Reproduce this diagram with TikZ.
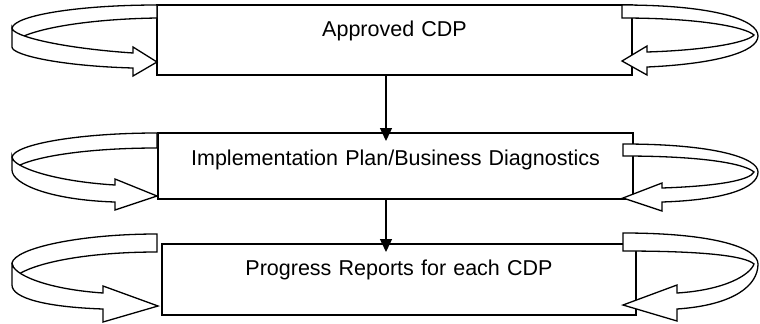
\documentclass[tikz,border=0pt]{standalone}
\usepackage{fontspec}
\setmainfont{Liberation Sans}
\usetikzlibrary{arrows.meta}
\tikzset{
  box/.style={draw, line width=1.6bp, inner sep=0pt, outer sep=0pt, align=center,
    anchor=north west, font=\fontsize{21.5bp}{26bp}\selectfont},
  ribbon/.style={draw, fill=white, line width=1.3bp},
  flow/.style={-{Triangle[width=12bp,length=13bp]}, line width=1.4bp, shorten >=-8bp}
}
\begin{document}
\begin{tikzpicture}[x=1bp,y=-1bp]
  \useasboundingbox (0,0) rectangle (760,323);
  \node[box, text width=475bp, text height=31bp, text depth=39bp] (app) at (157,5) {Approved CDP};
  \node[box, text width=475bp, text height=32bp, text depth=34bp] (plan) at (158,133) {Implementation Plan/Business Diagnostics};
  \node[box, text width=474bp, text height=31bp, text depth=40bp] (prog) at (162,244) {Progress Reports for each CDP};
  \coordinate (spine) at (386,0);
  \draw[flow] (app.south -| spine) -- (plan.north -| spine);
  \draw[flow] (plan.south -| spine) -- (prog.north -| spine);
  % left loops
  \draw[ribbon] (157,5) .. controls (80,5) and (15,15) .. (12,28) -- (16,40)
    .. controls (35,28) and (90,19) .. (157,18) -- cycle;
  \draw[ribbon] (12,28) .. controls (12,36) and (60,48) .. (133,53) -- (133,47) -- (157,62)
    -- (133,76) -- (133,68) .. controls (60,66) and (12,55) .. (12,47) -- cycle;
  \draw[ribbon] (157,133) .. controls (80,133) and (15,144) .. (12,157) -- (16,167)
    .. controls (35,156) and (90,148) .. (157,148) -- cycle;
  \draw[ribbon] (12,157) .. controls (12,166) and (50,181) .. (115,185) -- (115,179) -- (157,196)
    -- (115,210) -- (115,202) .. controls (50,200) and (12,184) .. (12,170) -- cycle;
  \draw[ribbon] (157,234) .. controls (80,234) and (15,248) .. (12,263) -- (16,276)
    .. controls (35,262) and (90,252) .. (157,252) -- cycle;
  \draw[ribbon] (12,263) .. controls (12,274) and (45,289) .. (103,293) -- (103,286) -- (158,306)
    -- (103,322) -- (103,309) .. controls (45,307) and (12,298) .. (12,285) -- cycle;
  % right loops
  \draw[ribbon] (622,5) .. controls (715,5) and (758,20) .. (758,36)
    .. controls (758,52) and (715,64) .. (647,67) -- (647,75) -- (622,61) -- (647,46) -- (647,52)
    .. controls (710,50) and (748,42) .. (754,35) .. controls (745,27) and (700,18) .. (622,18) -- cycle;
  \draw[ribbon] (623,144) .. controls (715,144) and (758,158) .. (758,172)
    .. controls (758,188) and (725,200) .. (662,202) -- (662,211) -- (623,198) -- (662,183) -- (662,188)
    .. controls (720,186) and (750,180) .. (754,172) .. controls (745,164) and (705,156) .. (623,156) -- cycle;
  \draw[ribbon] (623,233) .. controls (715,233) and (758,248) .. (758,264)
    .. controls (758,285) and (735,305) .. (677,309) -- (677,321) -- (623,305) -- (677,285) -- (677,293)
    .. controls (725,290) and (750,275) .. (754,264) .. controls (745,256) and (705,251) .. (623,251) -- cycle;
\end{tikzpicture}
\end{document}
